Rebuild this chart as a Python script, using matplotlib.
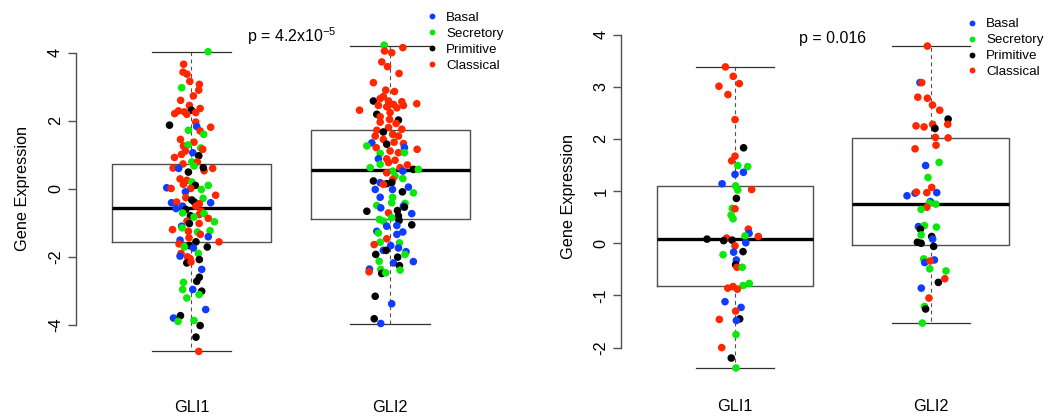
import matplotlib.pyplot as plt
import matplotlib.transforms as mtransforms
from matplotlib.lines import Line2D

plt.rcParams['font.family'] = ['Liberation Sans', 'DejaVu Sans']
plt.rcParams['mathtext.fontset'] = 'custom'
plt.rcParams['mathtext.rm'] = 'Liberation Sans'
plt.rcParams['axes.unicode_minus'] = False

subtypes = ['Basal', 'Secretory', 'Primitive', 'Classical']
subtype_codes = ['B', 'S', 'P', 'C']
subtype_colors = {'B': '#0f3cff', 'S': '#0ce80c', 'P': '#000000', 'C': '#ff2600'}
genes = ['GLI1', 'GLI2']

# ---- left panel, GLI1 ----
l_gli1_val = [4.03, 3.66, 3.43, 3.37, 3.16, 3.07, 2.97, 2.90, 2.73, 2.60,
              2.36, 2.45, 2.21, 2.29, 2.26, 2.31, 2.24, 2.19, 1.87, 1.96,
              1.83, 1.81, 1.72, 1.70, 1.60, 1.45, 1.37, 1.26, 1.29, 1.20,
              1.11, 1.06, 1.16, 1.01, 0.92, 0.97, 0.73, 0.79, 0.79, 0.61,
              0.60, 0.67, 0.49, 0.53, 0.62, 0.60, 0.29, 0.25, 0.20, 0.13,
              0.10, 0.03, 0.01, 0.01, 0.10, -0.02, -0.09, -0.19, -0.26, -0.28,
              -0.41, -0.39, -0.33, -0.39, -0.41, -0.51, -0.44, -0.51, -0.58, -0.61,
              -0.66, -0.71, -0.79, -0.76, -0.73, -0.83, -0.87, -0.95, -0.97, -1.02,
              -1.02, -1.10, -1.15, -1.20, -1.23, -1.25, -1.27, -1.44, -1.34, -1.41,
              -1.51, -1.56, -1.56, -1.62, -1.67, -1.71, -1.74, -1.71, -1.90, -1.90,
              -1.98, -2.00, -2.05, -2.08, -2.18, -2.15, -2.37, -2.75, -2.60, -2.72,
              -2.96, -2.96, -3.01, -3.11, -3.21, -3.55, -3.80, -3.73, -3.90, -3.87,
              -4.02, -4.36, -4.78]
l_gli1_jit = [0.084, -0.039, -0.042, -0.022, -0.008, 0.04, -0.049, 0.037, 0.01, -0.054,
              0.044, -0.01, -0.084, -0.065, -0.035, 0.0, 0.022, -0.023, -0.11, 0.022,
              0.027, 0.097, -0.015, 0.044, 0.062, -0.055, 0.013, -0.04, -0.017, 0.047,
              -0.03, 0.007, 0.057, -0.05, -0.085, 0.037, -0.042, 0.002, 0.03, -0.092,
              -0.064, 0.013, -0.015, 0.064, 0.06, 0.107, -0.057, -0.023, 0.002, -0.04,
              0.02, -0.124, -0.102, -0.003, 0.085, 0.05, -0.03, 0.122, -0.028, 0.059,
              -0.1, -0.074, 0.002, 0.015, 0.097, -0.044, 0.04, 0.023, -0.077, -0.028,
              0.049, -0.044, -0.005, 0.039, 0.064, 0.013, 0.085, -0.022, 0.116, -0.01,
              0.039, -0.049, -0.047, -0.095, 0.094, -0.015, 0.03, -0.012, 0.045, 0.085,
              -0.057, 0.023, 0.139, -0.062, -0.01, 0.08, 0.01, -0.035, 0.035, -0.052,
              -0.057, -0.02, -0.007, 0.04, -0.023, -0.002, 0.052, -0.04, 0.04, 0.027,
              0.007, -0.044, 0.052, 0.039, -0.023, 0.072, -0.09, -0.055, -0.067, 0.013,
              0.044, 0.023, 0.037]
l_gli1_type = ("SCCCCCSCCC" "CCCCCPCCPC" "BCSCSCCCSS" "CBCCCPCSCC" "BSPCPCCCSC"
               "PBCCSSBCCS" "BCPPBBCCBP" "CSPCSSCCSP" "CBSCSCSCCB" "BPCCPPBSSC"
               "BCCPPCBSPP" "BSPSSBBPSS" "PPC")

# ---- left panel, GLI2 ----
l_gli2_val = [4.22, 4.15, 4.05, 4.00, 3.73, 3.59, 3.39, 3.12, 2.90, 2.86,
              2.58, 2.65, 2.71, 2.31, 2.50, 2.56, 2.45, 2.58, 2.48, 2.45,
              2.41, 2.38, 2.19, 2.24, 2.12, 2.02, 2.04, 1.92, 1.96, 1.75,
              1.72, 1.80, 1.67, 1.60, 1.55, 1.55, 1.35, 1.45, 1.33, 1.31,
              1.37, 1.26, 1.21, 1.21, 1.16, 1.11, 1.06, 1.04, 1.06, 0.88,
              0.88, 0.84, 0.72, 0.77, 0.62, 0.62, 0.70, 0.57, 0.57, 0.52,
              0.47, 0.52, 0.37, 0.30, 0.23, 0.27, 0.18, 0.15, 0.18, 0.13,
              -0.02, -0.02, 0.05, -0.09, -0.12, -0.25, -0.25, -0.43, -0.41, -0.49,
              -0.56, -0.51, -0.54, -0.66, -0.64, -0.71, -0.73, -0.80, -0.85, -0.90,
              -0.93, -0.95, -1.10, -1.08, -1.06, -1.25, -1.27, -1.30, -1.34, -1.47,
              -1.57, -1.59, -1.64, -1.67, -1.74, -1.81, -1.81, -1.85, -1.93, -1.93,
              -2.01, -2.14, -2.13, -2.18, -2.26, -2.36, -2.37, -2.44, -2.49, -2.39,
              -2.47, -3.16, -3.38, -3.82, -3.96]
l_gli2_jit = [-0.03, 0.064, -0.028, 0.008, -0.042, -0.013, 0.045, -0.084, -0.022, 0.022,
              -0.084, -0.05, -0.034, -0.154, 0.134, 0.059, 0.067, -0.008, 0.017, -0.059,
              -0.017, 0.034, -0.067, 0.0, -0.05, 0.042, -0.003, 0.03, -0.05, 0.059,
              -0.067, -0.008, -0.034, 0.013, -0.075, 0.042, -0.092, -0.034, 0.067, -0.017,
              0.02, -0.117, -0.07, 0.072, 0.136, 0.0, 0.042, -0.05, 0.072, -0.059,
              -0.017, 0.025, -0.05, -0.008, -0.1, 0.05, 0.087, 0.117, 0.142, 0.013,
              -0.017, 0.064, 0.025, 0.064, -0.084, 0.013, -0.05, -0.017, 0.008, -0.034,
              -0.075, 0.012, 0.092, 0.062, 0.117, -0.05, 0.013, 0.075, 0.008, -0.067,
              -0.047, 0.067, 0.072, -0.117, 0.037, -0.008, 0.109, 0.042, 0.008, -0.054,
              0.045, -0.034, -0.017, 0.034, 0.109, -0.067, 0.064, -0.059, 0.034, -0.017,
              -0.05, 0.047, -0.08, 0.003, 0.042, -0.034, -0.02, 0.08, 0.075, -0.072,
              0.038, 0.117, -0.055, 0.017, 0.047, -0.104, -0.047, -0.106, -0.042, 0.05,
              -0.022, -0.075, 0.008, -0.08, -0.047]
l_gli2_type = ("SCCCCCCCCC" "PCCCCCCCCC" "CCPCCPCCCC" "CCPCCCBCCP" "CSCBCCCSSB"
               "CCSCSCCPSS" "CBSSPCBPPC" "BBBPSBSSSS" "BBPPPCBPSS" "PSBBPBBSBC"
               "SSCBBBPBSP" "PBSBPBSCPS" "SPBPB")

# ---- right panel, GLI1 ----
r_gli1_val = [3.38, 3.20, 3.06, 3.01, 2.85, 2.37, 1.83, 1.67, 1.58, 1.49,
              1.47, 1.32, 1.36, 1.14, 1.10, 1.02, 1.03, 0.86, 0.67, 0.66,
              0.54, 0.47, 0.27, 0.19, 0.14, 0.13, 0.08, 0.10, 0.05, 0.06,
              0.01, -0.05, -0.17, -0.16, -0.22, -0.32, -0.41, -0.46, -0.46, -0.77,
              -0.81, -0.86, -0.83, -0.88, -1.12, -1.23, -1.30, -1.46, -1.45, -1.48,
              -1.75, -2.00, -2.20, -2.39]
r_gli1_jit = [-0.049, -0.009, 0.022, -0.082, -0.036, 0.0, 0.044, 0.0, -0.017, 0.014,
              0.065, 0.0, 0.043, -0.066, 0.003, 0.014, 0.085, 0.007, -0.014, 0.0,
              -0.02, -0.01, 0.068, 0.072, 0.051, 0.119, -0.143, -0.043, -0.058, -0.015,
              0.055, 0.0, -0.007, 0.041, -0.061, 0.007, 0.003, 0.01, 0.037, 0.073,
              0.041, -0.037, -0.01, 0.012, -0.051, 0.031, 0.003, -0.08, 0.024, 0.007,
              0.005, -0.068, -0.019, 0.005]
r_gli1_type = ("CCCCCCPCCS" "SBBBSSCPSC" "SSCBSCPCPP" "BCBPSBPCSS" "SCCCBBCCPB" "SCPS")

# ---- right panel, GLI2 ----
r_gli2_val = [3.78, 3.08, 3.08, 2.80, 2.78, 2.65, 2.55, 2.38, 2.28, 2.25,
              2.23, 2.28, 2.20, 2.03, 2.02, 1.88, 1.81, 1.55, 1.49, 1.26,
              1.07, 0.91, 0.96, 0.98, 0.97, 0.97, 0.80, 0.75, 0.77, 0.69,
              0.65, 0.32, 0.34, 0.31, 0.27, 0.16, 0.13, 0.08, 0.02, 0.0,
              -0.06, -0.30, -0.37, -0.32, -0.34, -0.49, -0.53, -0.75, -0.68, -0.86,
              -1.05, -1.21, -1.26, -1.53]
r_gli2_jit = [-0.017, -0.055, -0.046, -0.066, -0.017, 0.009, 0.046, 0.089, 0.087, -0.075,
              -0.034, 0.01, 0.022, 0.024, 0.089, 0.027, -0.08, 0.043, -0.026, -0.014,
              0.005, -0.121, -0.08, -0.073, -0.02, 0.031, -0.002, 0.026, -0.007, -0.02,
              -0.049, -0.063, -0.032, 0.029, -0.053, -0.049, 0.005, 0.01, -0.068, -0.049,
              0.015, -0.036, -0.031, 0.019, -0.003, -0.005, 0.078, 0.039, 0.072, -0.048,
              -0.009, -0.032, -0.026, -0.043]
r_gli2_type = ("CBCCCCCPCC" "CCPCCCCSBS" "CBBCCBBSSC" "SBSSPSPBPP" "PSBBCSSPCB" "CSPS")

# box summaries (whisker low, Q1, median, Q3, whisker high)
l_box_gli1 = [-4.78, -1.55, -0.57, 0.73, 4.03]
l_box_gli2 = [-3.96, -0.90, 0.54, 1.73, 4.20]
r_box_gli1 = [-2.39, -0.82, 0.077, 1.10, 3.38]
r_box_gli2 = [-1.53, -0.03, 0.75, 2.02, 3.78]

p_left = r'p = 4.2x10$^{-5}$'
p_right = 'p = 0.016'
l_yticks = [-4, -2, 0, 2, 4]
r_yticks = [-2, -1, 0, 1, 2, 3, 4]

fig = plt.figure(figsize=(10.5, 4.19), dpi=100)
ax1 = fig.add_axes([0.0725, 0.1313, 0.4088, 0.790])
ax2 = fig.add_axes([0.5919, 0.0907, 0.4026, 0.833])

line_col = '#505050'


def panel(ax, boxes, groups, yticks, ylim, gene_y):
    stats = []
    for b in boxes:
        stats.append(dict(whislo=b[0], q1=b[1], med=b[2], q3=b[3], whishi=b[4], fliers=[]))
    ax.bxp(stats, positions=[1, 2], widths=0.8, capwidths=0.4, showfliers=False,
           boxprops=dict(color=line_col, linewidth=1.0),
           whiskerprops=dict(color=line_col, linewidth=0.8, linestyle=(0, (3.5, 3))),
           capprops=dict(color='#303030', linewidth=0.9),
           medianprops=dict(color='black', linewidth=2.4, solid_capstyle='butt'))
    for pos, (vals, jit, types) in enumerate(groups, start=1):
        xs = [pos + j for j in jit]
        cols = [subtype_colors[t] for t in types]
        ax.scatter(xs, vals, s=30, c=cols, linewidths=0, zorder=3)
    ax.set_xlim(0.42, 2.58)
    ax.set_ylim(*ylim)
    for s in ['top', 'right', 'bottom']:
        ax.spines[s].set_visible(False)
    ax.spines['left'].set_bounds(yticks[0], yticks[-1])
    ax.spines['left'].set_color(line_col)
    ax.spines['left'].set_linewidth(1.0)
    ax.set_xticks([])
    ax.set_yticks(yticks)
    ax.set_yticklabels([str(t) for t in yticks], rotation=90, va='center', fontsize=11.7)
    ax.tick_params(axis='y', length=5.5, width=1.0, color=line_col, pad=4)
    ax.set_ylabel('Gene Expression', fontsize=11.7)
    ax.yaxis.set_label_coords(-0.108, 0.53)
    trans = mtransforms.blended_transform_factory(ax.transData, ax.transAxes)
    for pos, g in enumerate(genes, start=1):
        ax.text(pos, gene_y, g, transform=trans, ha='center', va='baseline', fontsize=11.7)


panel(ax1, [l_box_gli1, l_box_gli2],
      [(l_gli1_val, l_gli1_jit, l_gli1_type), (l_gli2_val, l_gli2_jit, l_gli2_type)],
      l_yticks, (-5.15, 4.58), -0.146)
panel(ax2, [r_box_gli1, r_box_gli2],
      [(r_gli1_val, r_gli1_jit, r_gli1_type), (r_gli2_val, r_gli2_jit, r_gli2_type)],
      r_yticks, (-2.64, 4.05), -0.0856)

fig.text(247 / 1050, 1 - 42 / 419, p_left, fontsize=11.5, va='baseline', ha='left')
fig.text(799 / 1050, 1 - 43 / 419, p_right, fontsize=11.5, va='baseline', ha='left')

handles = [Line2D([], [], marker='o', linestyle='none', markersize=4.2,
                  markerfacecolor=subtype_colors[c], markeredgewidth=0) for c in subtype_codes]
for x0, y0 in [(428 / 1050, 1 - 11.5 / 419), (968 / 1050, 1 - 18.0 / 419)]:
    fig.legend(handles, subtypes, loc='upper left', bbox_to_anchor=(x0, y0),
               frameon=False, borderaxespad=0, borderpad=0, handlelength=0.6,
               handletextpad=0.75, labelspacing=0.27, fontsize=9.6)

fig.savefig('out.png', dpi=100)
